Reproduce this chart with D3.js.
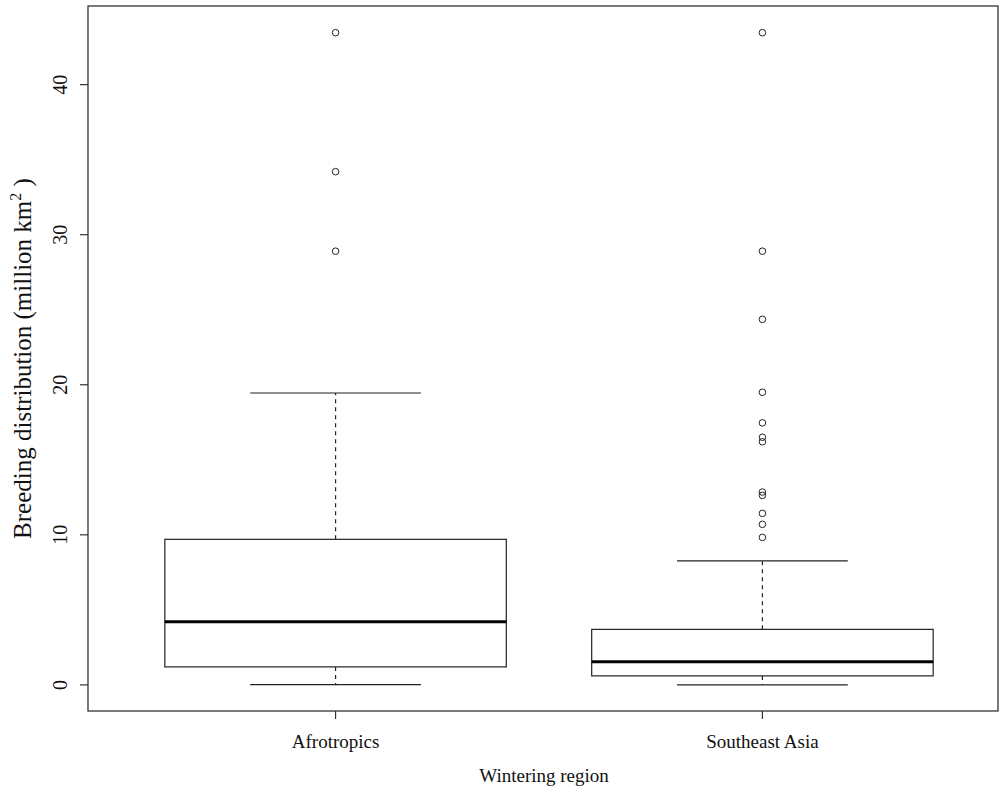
<!DOCTYPE html>
<html>
<head>
<meta charset="utf-8">
<script src="https://cdn.jsdelivr.net/npm/d3@7"></script>
<style>
  body { margin: 0; background: #fff; }
  text { font-family: "Liberation Serif", "DejaVu Serif", serif; fill: #111; }
</style>
</head>
<body>
<div id="chart"></div>
<script>
// ---- data ----
const regions = ["Afrotropics", "Southeast Asia"];
const lowerWhisker = [0.02, 0.0];
const q1 = [1.2, 0.6];
const median = [4.2, 1.55];
const q3 = [9.7, 3.7];
const upperWhisker = [19.45, 8.27];
const outliersAfro = [28.9, 34.2, 43.46];
const outliersSEA = [9.83, 10.7, 11.43, 12.63, 12.85, 16.2, 16.5, 17.46, 19.5, 24.36, 28.9, 43.46];
const yTicks = [0, 10, 20, 30, 40];

(function () {
  const width = 999, height = 796;
  const plotLeft = 88, plotRight = 998, plotTop = 6, plotBottom = 711;

  const svg = d3.select("#chart").append("svg")
    .attr("width", width).attr("height", height);

  // x positions of groups 1 and 2 (R style, xlim 0.5..2.5 plus 4%)
  const x = d3.scaleLinear().domain([0.42, 2.58]).range([plotLeft, 1010]);
  const y = d3.scaleLinear().domain([-1.74, 45.24]).range([plotBottom, plotTop]);

  const boxHalf = x(1.4) - x(1);
  const capHalf = x(1.2) - x(1);
  const lineCol = "#222";

  // frame
  svg.append("rect")
    .attr("x", plotLeft).attr("y", plotTop)
    .attr("width", plotRight - plotLeft).attr("height", plotBottom - plotTop)
    .attr("fill", "none").attr("stroke", "#333").attr("stroke-width", 1.3);

  // y axis ticks + labels
  yTicks.forEach(t => {
    svg.append("line")
      .attr("x1", plotLeft - 8).attr("x2", plotLeft)
      .attr("y1", y(t)).attr("y2", y(t))
      .attr("stroke", "#333").attr("stroke-width", 1.2);
    svg.append("text")
      .attr("transform", `translate(67,${y(t)}) rotate(-90)`)
      .attr("text-anchor", "middle")
      .attr("font-size", 20)
      .text(t);
  });

  // y title
  const yt = svg.append("text")
    .attr("transform", `translate(31,${(plotTop + plotBottom) / 2}) rotate(-90)`)
    .attr("text-anchor", "middle")
    .attr("font-size", 25);
  yt.append("tspan").text("Breeding distribution (million km");
  yt.append("tspan").attr("font-size", 16).attr("dy", -10).text("2");
  yt.append("tspan").attr("dy", 10).text(" )");

  // x ticks + labels
  regions.forEach((r, i) => {
    const cx = x(i + 1);
    svg.append("line")
      .attr("x1", cx).attr("x2", cx)
      .attr("y1", plotBottom).attr("y2", plotBottom + 8)
      .attr("stroke", "#333").attr("stroke-width", 1.2);
    svg.append("text")
      .attr("x", cx).attr("y", 748)
      .attr("text-anchor", "middle")
      .attr("font-size", 19)
      .text(r);
  });

  svg.append("text")
    .attr("x", 544).attr("y", 782)
    .attr("text-anchor", "middle")
    .attr("font-size", 19)
    .text("Wintering region");

  // boxes
  const outliers = [outliersAfro, outliersSEA];
  regions.forEach((r, i) => {
    const cx = x(i + 1);
    const g = svg.append("g");
    // whiskers (dashed)
    g.append("line")
      .attr("x1", cx).attr("x2", cx)
      .attr("y1", y(q3[i])).attr("y2", y(upperWhisker[i]))
      .attr("stroke", lineCol).attr("stroke-width", 1.2)
      .attr("stroke-dasharray", "4,4");
    g.append("line")
      .attr("x1", cx).attr("x2", cx)
      .attr("y1", y(q1[i])).attr("y2", y(lowerWhisker[i]))
      .attr("stroke", lineCol).attr("stroke-width", 1.2)
      .attr("stroke-dasharray", "4,4");
    // caps
    [upperWhisker[i], lowerWhisker[i]].forEach(v => {
      g.append("line")
        .attr("x1", cx - capHalf).attr("x2", cx + capHalf)
        .attr("y1", y(v)).attr("y2", y(v))
        .attr("stroke", lineCol).attr("stroke-width", 1.2);
    });
    // box
    g.append("rect")
      .attr("x", cx - boxHalf).attr("y", y(q3[i]))
      .attr("width", 2 * boxHalf).attr("height", y(q1[i]) - y(q3[i]))
      .attr("fill", "#fff").attr("stroke", lineCol).attr("stroke-width", 1.2);
    // median
    g.append("line")
      .attr("x1", cx - boxHalf).attr("x2", cx + boxHalf)
      .attr("y1", y(median[i])).attr("y2", y(median[i]))
      .attr("stroke", "#000").attr("stroke-width", 3);
    // outliers
    g.selectAll("circle")
      .data(outliers[i])
      .join("circle")
      .attr("cx", cx).attr("cy", d => y(d))
      .attr("r", 3.3)
      .attr("fill", "none").attr("stroke", lineCol).attr("stroke-width", 1);
  });
})();
</script>
</body>
</html>
